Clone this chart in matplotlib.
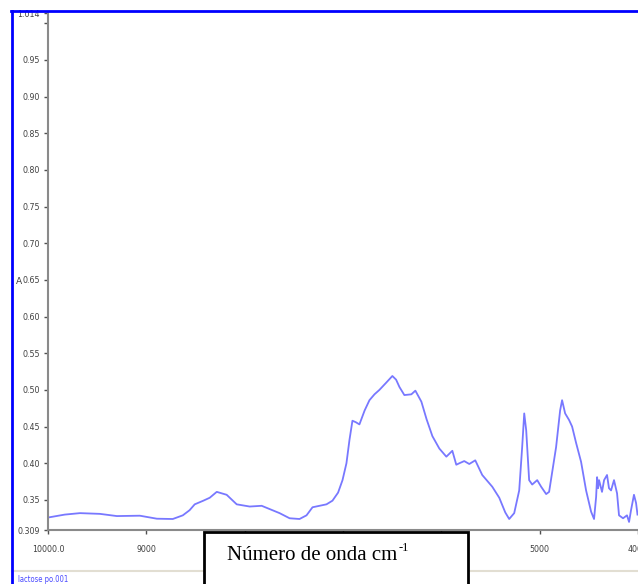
import matplotlib
matplotlib.use('Agg')
import matplotlib.pyplot as plt
from matplotlib.lines import Line2D
from matplotlib.patches import Rectangle

# NIR spectrum of lactose powder
wavenumber = [10000, 9830, 9675, 9472, 9300, 9066, 8893, 8731, 8629, 8560,
              8508, 8420, 8355, 8284, 8183, 8081, 7949, 7827, 7645, 7543,
              7442, 7371, 7310, 7168, 7107, 7050, 7005, 6965, 6934, 6904,
              6870, 6833, 6780, 6731, 6680, 6630, 6560, 6498, 6460, 6426,
              6376, 6305, 6264, 6203, 6150, 6091, 6020, 5949, 5888, 5848,
              5817, 5767, 5716, 5655, 5584, 5482, 5411, 5350, 5310, 5259,
              5208, 5178, 5157, 5137, 5107, 5076, 5025, 4985, 4934, 4904,
              4833, 4792, 4772, 4741, 4701, 4670, 4630, 4579, 4528, 4477,
              4447, 4426, 4416, 4406, 4396, 4366, 4345, 4315, 4295, 4274,
              4244, 4213, 4193, 4152, 4112, 4091, 4071, 4041, 4020, 4005]
absorb = [0.326, 0.330, 0.332, 0.331, 0.328, 0.3285, 0.3244, 0.324, 0.329, 0.336,
          0.344, 0.349, 0.353, 0.361, 0.357, 0.344, 0.341, 0.342, 0.332, 0.325,
          0.324, 0.329, 0.340, 0.344, 0.349, 0.360, 0.377, 0.400, 0.432, 0.458,
          0.456, 0.453, 0.472, 0.486, 0.494, 0.500, 0.510, 0.519, 0.514, 0.504,
          0.493, 0.494, 0.499, 0.484, 0.460, 0.437, 0.420, 0.409, 0.417, 0.398,
          0.400, 0.403, 0.399, 0.404, 0.384, 0.368, 0.353, 0.333, 0.324, 0.332,
          0.363, 0.422, 0.468, 0.445, 0.377, 0.371, 0.377, 0.368, 0.358, 0.361,
          0.422, 0.472, 0.486, 0.468, 0.459, 0.450, 0.428, 0.402, 0.363, 0.334,
          0.324, 0.354, 0.381, 0.366, 0.377, 0.361, 0.377, 0.384, 0.366, 0.363,
          0.377, 0.359, 0.329, 0.325, 0.329, 0.320, 0.336, 0.357, 0.346, 0.330]

xticks = [10000, 9000, 8000, 7000, 6000, 5000, 4000]
xlabels = ['10000.0', '9000', '8000', '7000', '6000', '5000', '4000']
yticks = [0.309, 0.35, 0.40, 0.45, 0.50, 0.55, 0.60, 0.65, 0.70, 0.75,
          0.80, 0.85, 0.90, 0.95, 1.00, 1.014]
ylabels = ['0.309', '0.35', '0.40', '0.45', '0.50', '0.55', '0.60', '0.65',
           '0.70', '0.75', '0.80', '0.85', '0.90', '0.95', '', '1.014']

plt.rcParams['font.family'] = ['Liberation Sans Narrow', 'DejaVu Sans']

W, H = 638, 584
fig = plt.figure(figsize=(W/100, H/100), dpi=100)
ax = fig.add_axes([48/W, (H-530)/H, 1-48/W, (530-13)/H])

ax.plot(wavenumber, absorb, color='#7878ff', lw=1.3)
ax.set_xlim(10000, 4015)
ax.set_ylim(0.309, 1.014)

ax.set_xticks(xticks)
ax.set_xticklabels(xlabels, fontstretch='condensed')
ax.set_yticks(yticks)
ax.set_yticklabels(ylabels, fontstretch='condensed')
ax.tick_params(labelsize=6.3, colors='#505050', length=3, width=1, pad=8)
ax.tick_params(axis='y', pad=3)
for lab in ax.get_xticklabels() + ax.get_yticklabels():
    lab.set_color('#404040')

for side in ['top', 'right']:
    ax.spines[side].set_visible(False)
for side in ['left', 'bottom']:
    ax.spines[side].set_color('#8a8a8a')
    ax.spines[side].set_linewidth(1.5)

fig.text(19/W, 1-281/H, 'A', fontsize=6.5, color='#404040',
         va='center', ha='center')

# status strip along the bottom
fig.add_artist(Line2D([12/W, 1], [1-571/H]*2, color='#e2ded2', lw=1.5))
fig.text(18/W, 1-579/H, 'lactose po.001', fontsize=5.5, color='#4a4aff',
         fontstretch='condensed', va='center', ha='left')

# axis caption box covering the middle x labels
fig.add_artist(Rectangle((204/W, -0.02), (468-204)/W, (0.02 + 1-532/H),
                         transform=fig.transFigure, facecolor='white',
                         edgecolor='black', lw=2, zorder=5))
cap = fig.text(227/W, 1-556/H, 'Número de onda cm', fontsize=15,
               family='Liberation Serif', color='black',
               va='center', ha='left', zorder=6)
# superscript placed right after the caption
bb = cap.get_window_extent(renderer=fig.canvas.get_renderer())
fig.text(bb.x1/W + 1/W, 1-548/H, '-1', fontsize=9,
         family='Liberation Serif', color='black',
         va='center', ha='left', zorder=6)

# window frame
fig.add_artist(Line2D([11/W, 1], [1-10.5/H]*2, color='#0000ff', lw=2, zorder=7))
fig.add_artist(Line2D([11.5/W]*2, [0, 1-10.5/H], color='#0000ff', lw=2, zorder=7))

fig.savefig('out.png', dpi=100)
